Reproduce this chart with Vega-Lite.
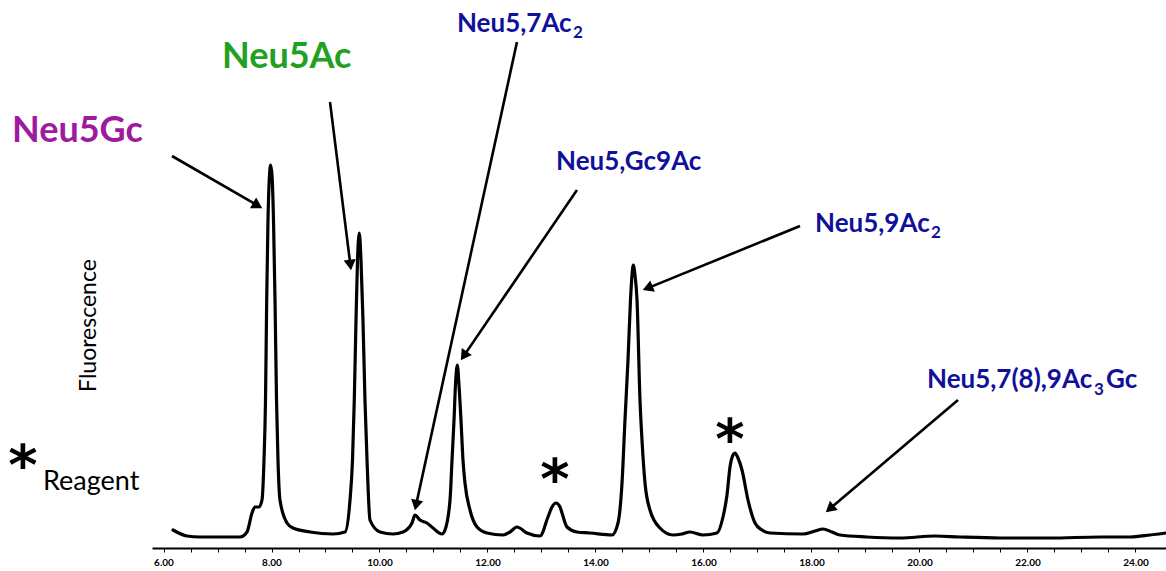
{
  "$schema": "https://vega.github.io/schema/vega-lite/v6.json",
  "width": 1014,
  "height": 548,
  "autosize": {"type": "none"},
  "padding": {"left": 152, "right": 0, "top": 0, "bottom": 23},
  "background": "white",
  "view": {"stroke": null},
  "datasets": {
    "trace": [
      {"t": 6.176, "s": 3.6}, {"t": 6.435, "s": 2.4}, {"t": 6.676, "s": 2.2}, {"t": 7.102, "s": 2.2},
      {"t": 7.417, "s": 2.2}, {"t": 7.546, "s": 3.2}, {"t": 7.639, "s": 7.0}, {"t": 7.694, "s": 8.2},
      {"t": 7.769, "s": 8.2}, {"t": 7.824, "s": 9.6}, {"t": 7.861, "s": 17.6}, {"t": 7.889, "s": 29.6},
      {"t": 7.911, "s": 49.6}, {"t": 7.935, "s": 65.6}, {"t": 7.963, "s": 74.6}, {"t": 7.985, "s": 76.6},
      {"t": 8.009, "s": 74.6}, {"t": 8.037, "s": 65.6}, {"t": 8.065, "s": 49.6}, {"t": 8.093, "s": 29.6},
      {"t": 8.120, "s": 17.6}, {"t": 8.157, "s": 9.6}, {"t": 8.287, "s": 5.0}, {"t": 8.398, "s": 4.0},
      {"t": 8.713, "s": 3.2}, {"t": 9.139, "s": 2.8}, {"t": 9.361, "s": 3.2}, {"t": 9.454, "s": 9.6},
      {"t": 9.500, "s": 17.6}, {"t": 9.533, "s": 29.6}, {"t": 9.565, "s": 45.6}, {"t": 9.593, "s": 57.6},
      {"t": 9.626, "s": 63.0}, {"t": 9.657, "s": 57.6}, {"t": 9.694, "s": 45.6}, {"t": 9.731, "s": 29.6},
      {"t": 9.769, "s": 17.6}, {"t": 9.824, "s": 5.6}, {"t": 10.009, "s": 3.2}, {"t": 10.250, "s": 2.8},
      {"t": 10.435, "s": 3.2}, {"t": 10.602, "s": 5.0}, {"t": 10.657, "s": 6.6}, {"t": 10.750, "s": 5.6},
      {"t": 10.880, "s": 5.0}, {"t": 10.991, "s": 4.0}, {"t": 11.157, "s": 2.8}, {"t": 11.213, "s": 3.6},
      {"t": 11.306, "s": 9.6}, {"t": 11.343, "s": 17.6}, {"t": 11.380, "s": 25.6}, {"t": 11.407, "s": 32.6},
      {"t": 11.441, "s": 36.6}, {"t": 11.472, "s": 32.6}, {"t": 11.509, "s": 25.6}, {"t": 11.546, "s": 17.6},
      {"t": 11.583, "s": 13.0}, {"t": 11.676, "s": 7.6}, {"t": 11.806, "s": 4.2}, {"t": 11.991, "s": 3.0},
      {"t": 12.287, "s": 2.6}, {"t": 12.417, "s": 3.2}, {"t": 12.546, "s": 4.2}, {"t": 12.731, "s": 3.0},
      {"t": 12.972, "s": 2.4}, {"t": 13.120, "s": 6.2}, {"t": 13.194, "s": 8.2}, {"t": 13.269, "s": 9.0},
      {"t": 13.343, "s": 8.2}, {"t": 13.380, "s": 7.0}, {"t": 13.472, "s": 4.2}, {"t": 13.657, "s": 3.2},
      {"t": 13.898, "s": 3.0}, {"t": 14.306, "s": 2.6}, {"t": 14.417, "s": 5.0}, {"t": 14.491, "s": 13.0},
      {"t": 14.546, "s": 25.6}, {"t": 14.602, "s": 37.6}, {"t": 14.648, "s": 49.6}, {"t": 14.676, "s": 54.6},
      {"t": 14.700, "s": 56.6}, {"t": 14.731, "s": 54.6}, {"t": 14.769, "s": 49.6}, {"t": 14.824, "s": 29.6},
      {"t": 14.861, "s": 21.6}, {"t": 14.917, "s": 13.0}, {"t": 15.009, "s": 7.6}, {"t": 15.194, "s": 4.0},
      {"t": 15.435, "s": 2.6}, {"t": 15.602, "s": 2.8}, {"t": 15.750, "s": 3.2}, {"t": 15.991, "s": 2.6},
      {"t": 16.250, "s": 3.0}, {"t": 16.361, "s": 6.2}, {"t": 16.435, "s": 10.6}, {"t": 16.491, "s": 16.2},
      {"t": 16.546, "s": 18.6}, {"t": 16.583, "s": 19.0}, {"t": 16.639, "s": 18.0}, {"t": 16.713, "s": 15.6},
      {"t": 16.824, "s": 9.6}, {"t": 16.954, "s": 5.0}, {"t": 17.083, "s": 3.6}, {"t": 17.231, "s": 3.0},
      {"t": 17.843, "s": 2.8}, {"t": 18.065, "s": 3.4}, {"t": 18.213, "s": 3.8}, {"t": 18.380, "s": 3.2},
      {"t": 18.528, "s": 2.6}, {"t": 19.028, "s": 2.2}, {"t": 19.639, "s": 2.0}, {"t": 20.287, "s": 2.4},
      {"t": 20.750, "s": 2.2}, {"t": 21.491, "s": 2.0}, {"t": 22.417, "s": 2.0}, {"t": 23.343, "s": 2.2},
      {"t": 23.898, "s": 2.2}, {"t": 24.269, "s": 2.6}, {"t": 24.565, "s": 3.0}
    ],
    "arrows": [
      {"name": "Neu5Gc", "x": 6.157, "y": 78.4, "x2": 7.824, "y2": 68.0},
      {"name": "Neu5Ac", "x": 9.083, "y": 89.2, "x2": 9.472, "y2": 55.6},
      {"name": "Neu5,7Ac2", "x": 12.546, "y": 101.2, "x2": 10.657, "y2": 7.6},
      {"name": "Neu5,Gc9Ac", "x": 13.657, "y": 71.6, "x2": 11.509, "y2": 37.6},
      {"name": "Neu5,9Ac2", "x": 17.787, "y": 64.4, "x2": 14.880, "y2": 51.6},
      {"name": "Neu5,7(8),9Ac3Gc", "x": 20.713, "y": 29.6, "x2": 18.269, "y2": 7.2}
    ],
    "labels": [
      {"kind": "gc", "t": 3.194, "s": 81.2, "text": "Neu5Gc"},
      {"kind": "ac", "t": 7.083, "s": 96.0, "text": "Neu5Ac"},
      {"kind": "blue", "t": 11.435, "s": 103.2, "text": "Neu5,7Ac"},
      {"kind": "sub", "t": 13.583, "s": 102.0, "text": "2"},
      {"kind": "blue", "t": 13.269, "s": 75.6, "text": "Neu5,Gc9Ac"},
      {"kind": "blue", "t": 18.065, "s": 63.2, "text": "Neu5,9Ac"},
      {"kind": "sub", "t": 20.213, "s": 62.0, "text": "2"},
      {"kind": "blue", "t": 20.139, "s": 32.0, "text": "Neu5,7(8),9Ac"},
      {"kind": "sub", "t": 23.231, "s": 30.6, "text": "3"},
      {"kind": "blue", "t": 23.454, "s": 32.0, "text": "Gc"},
      {"kind": "star", "t": 13.250, "s": 15.6, "text": "*"},
      {"kind": "star", "t": 16.491, "s": 23.6, "text": "*"},
      {"kind": "star", "t": 3.398, "s": 18.4, "text": "*"},
      {"kind": "reagent", "t": 3.769, "s": 11.6, "text": "Reagent"}
    ]
  },
  "encoding": {
    "x": {
      "field": "t", "type": "quantitative",
      "scale": {"domain": [5.787, 24.565], "nice": false, "zero": false},
      "axis": {
        "title": null, "grid": false,
        "values": [6, 6.5, 7, 7.5, 8, 8.5, 9, 9.5, 10, 10.5, 11, 11.5, 12, 12.5, 13, 13.5, 14, 14.5, 15, 15.5, 16, 16.5, 17, 17.5, 18, 18.5, 19, 19.5, 20, 20.5, 21, 21.5, 22, 22.5, 23, 23.5, 24],
        "labelExpr": "datum.value % 2 === 0 ? format(datum.value, '.2f') : ''",
        "labelFont": "Lato", "labelFontWeight": "bold", "labelFontSize": 10, "labelColor": "black",
        "labelPadding": 5, "labelOverlap": false, "labelFlush": false,
        "tickColor": "black", "tickSize": 4, "tickWidth": 1,
        "domainColor": "black", "domainWidth": 2
      }
    },
    "y": {
      "field": "s", "type": "quantitative",
      "scale": {"domain": [0, 109.6], "nice": false, "zero": false},
      "axis": {
        "title": "Fluorescence", "domain": false, "ticks": false, "labels": false, "grid": false,
        "titleFont": "Lato", "titleFontWeight": "normal", "titleFontSize": 23, "titleColor": "black",
        "titleAngle": -90, "titleX": -64, "titleY": 325, "titleAlign": "center", "titleBaseline": "middle"
      }
    }
  },
  "layer": [
    {
      "data": {"name": "trace"},
      "mark": {"type": "line", "color": "black", "strokeWidth": 3.2, "interpolate": "monotone", "strokeJoin": "round", "strokeCap": "round"}
    },
    {
      "data": {"name": "arrows"},
      "transform": [
        {"calculate": "(datum.x2 - datum.x) * 54", "as": "dxp"},
        {"calculate": "(datum.y - datum.y2) * 5", "as": "dyp"},
        {"calculate": "sqrt(datum.dxp * datum.dxp + datum.dyp * datum.dyp)", "as": "len"},
        {"calculate": "atan2(datum.dxp, -datum.dyp) * 180 / PI", "as": "angle"},
        {"calculate": "datum.x2 - 5 * datum.dxp / datum.len / 54", "as": "hx"},
        {"calculate": "datum.y2 + 5 * datum.dyp / datum.len / 5", "as": "hy"}
      ],
      "layer": [
        {
          "mark": {"type": "rule", "color": "black", "strokeWidth": 2.6},
          "encoding": {
            "x": {"field": "x", "type": "quantitative"},
            "y": {"field": "y", "type": "quantitative"},
            "x2": {"field": "hx"},
            "y2": {"field": "hy"}
          }
        },
        {
          "mark": {"type": "point", "shape": "triangle-up", "filled": true, "color": "black", "opacity": 1, "size": 150},
          "encoding": {
            "x": {"field": "hx", "type": "quantitative"},
            "y": {"field": "hy", "type": "quantitative"},
            "angle": {"field": "angle", "type": "quantitative", "scale": null}
          }
        }
      ]
    },
    {
      "data": {"name": "labels"},
      "transform": [{"filter": "datum.kind === 'gc'"}],
      "mark": {"type": "text", "font": "Lato", "fontWeight": "bold", "fontSize": 36, "color": "#9e1a9e", "align": "left", "baseline": "alphabetic"},
      "encoding": {"text": {"field": "text"}}
    },
    {
      "data": {"name": "labels"},
      "transform": [{"filter": "datum.kind === 'ac'"}],
      "mark": {"type": "text", "font": "Lato", "fontWeight": "bold", "fontSize": 36, "color": "#22a022", "align": "left", "baseline": "alphabetic"},
      "encoding": {"text": {"field": "text"}}
    },
    {
      "data": {"name": "labels"},
      "transform": [{"filter": "datum.kind === 'blue'"}],
      "mark": {"type": "text", "font": "Lato", "fontWeight": "bold", "fontSize": 26, "color": "#10109a", "align": "left", "baseline": "alphabetic"},
      "encoding": {"text": {"field": "text"}}
    },
    {
      "data": {"name": "labels"},
      "transform": [{"filter": "datum.kind === 'sub'"}],
      "mark": {"type": "text", "font": "Lato", "fontWeight": "bold", "fontSize": 17, "color": "#10109a", "align": "left", "baseline": "alphabetic"},
      "encoding": {"text": {"field": "text"}}
    },
    {
      "data": {"name": "labels"},
      "transform": [{"filter": "datum.kind === 'star'"}],
      "mark": {"type": "text", "font": "DejaVu Sans", "fontWeight": "bold", "fontSize": 56, "color": "black", "align": "center", "baseline": "middle", "dy": 11},
      "encoding": {"text": {"field": "text"}}
    },
    {
      "data": {"name": "labels"},
      "transform": [{"filter": "datum.kind === 'reagent'"}],
      "mark": {"type": "text", "font": "Lato", "fontSize": 27, "color": "black", "align": "left", "baseline": "alphabetic"},
      "encoding": {"text": {"field": "text"}}
    }
  ]
}
